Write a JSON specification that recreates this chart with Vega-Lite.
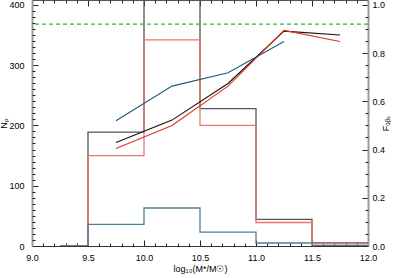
{
  "$schema": "https://vega.github.io/schema/vega-lite/v6.json",
  "width": 336,
  "height": 246,
  "autosize": {"type": "none"},
  "padding": {"left": 32, "top": 0, "right": 27, "bottom": 32},
  "background": "white",
  "config": {
    "view": {"stroke": null},
    "font": "Liberation Sans",
    "axis": {"labelFont": "Liberation Sans", "labelFontSize": 9, "labelColor": "#000", "titleFont": "Liberation Sans", "titleFontSize": 9, "titleFontWeight": "normal", "titleColor": "#000", "grid": false, "tickColor": "#222", "tickWidth": 1}
  },
  "datasets": {
    "hist": [
      {"x": 9.25, "n": 0, "s": "black"}, {"x": 9.5, "n": 189, "s": "black"}, {"x": 10.0, "n": 450, "s": "black"}, {"x": 10.5, "n": 228, "s": "black"}, {"x": 11.0, "n": 44, "s": "black"}, {"x": 11.5, "n": 5, "s": "black"}, {"x": 12.0, "n": 5, "s": "black"},
      {"x": 9.25, "n": 0, "s": "red"}, {"x": 9.5, "n": 150, "s": "red"}, {"x": 10.0, "n": 342, "s": "red"}, {"x": 10.5, "n": 200, "s": "red"}, {"x": 11.0, "n": 39, "s": "red"}, {"x": 11.5, "n": 4, "s": "red"}, {"x": 12.0, "n": 4, "s": "red"},
      {"x": 9.25, "n": 0, "s": "blue"}, {"x": 9.5, "n": 36, "s": "blue"}, {"x": 10.0, "n": 63, "s": "blue"}, {"x": 10.5, "n": 23, "s": "blue"}, {"x": 11.0, "n": 5, "s": "blue"}, {"x": 11.5, "n": 1, "s": "blue"}, {"x": 12.0, "n": 1, "s": "blue"}
    ],
    "frac": [
      {"x": 9.75, "f": 0.429, "s": "black"}, {"x": 10.25, "f": 0.522, "s": "black"}, {"x": 10.75, "f": 0.674, "s": "black"}, {"x": 11.25, "f": 0.891, "s": "black"}, {"x": 11.75, "f": 0.875, "s": "black"},
      {"x": 9.75, "f": 0.404, "s": "red"}, {"x": 10.25, "f": 0.5, "s": "red"}, {"x": 10.75, "f": 0.663, "s": "red"}, {"x": 11.25, "f": 0.894, "s": "red"}, {"x": 11.75, "f": 0.848, "s": "red"},
      {"x": 9.75, "f": 0.519, "s": "blue"}, {"x": 10.25, "f": 0.663, "s": "blue"}, {"x": 10.75, "f": 0.718, "s": "blue"}, {"x": 11.25, "f": 0.848, "s": "blue"}
    ],
    "thr": [{"f": 0.92}]
  },
  "resolve": {"scale": {"y": "independent"}, "axis": {"x": "independent", "y": "independent"}},
  "layer": [
    {
      "data": {"name": "hist"},
      "transform": [{"filter": "datum.s === 'black'"}],
      "mark": {"type": "line", "interpolate": "step-after", "color": "#555555", "strokeWidth": 1.3, "clip": true},
      "encoding": {
        "x": {"field": "x", "type": "quantitative", "scale": {"domain": [9, 12], "nice": false, "zero": false},
          "axis": {"orient": "bottom", "values": [9, 9.5, 10, 10.5, 11, 11.5, 12], "format": ".1f", "tickSize": -6, "labelPadding": 13, "domainColor": "#333", "domainWidth": 1, "title": "log₁₀(M*/M☉)", "titlePadding": 2, "labelFlush": false}},
        "y": {"field": "n", "type": "quantitative", "scale": {"domain": [0, 408], "nice": false, "zero": false},
          "axis": {"orient": "left", "values": [0, 100, 200, 300, 400], "tickSize": -6, "labelPadding": 14, "domainColor": "#999", "domainWidth": 2, "title": "Nₚ", "titlePadding": 0, "labelFlush": false}}
      }
    },
    {
      "data": {"name": "hist"},
      "transform": [{"filter": "datum.s === 'red'"}],
      "mark": {"type": "line", "interpolate": "step-after", "color": "#e8766b", "strokeWidth": 1.3, "clip": true},
      "encoding": {
        "x": {"field": "x", "type": "quantitative", "scale": {"domain": [9, 12], "nice": false, "zero": false},
          "axis": {"orient": "bottom", "values": [9.1, 9.2, 9.3, 9.4, 9.6, 9.7, 9.8, 9.9, 10.1, 10.2, 10.3, 10.4, 10.6, 10.7, 10.8, 10.9, 11.1, 11.2, 11.3, 11.4, 11.6, 11.7, 11.8, 11.9], "labels": false, "tickSize": -3, "domain": false, "title": null}},
        "y": {"field": "n", "type": "quantitative", "scale": {"domain": [0, 408], "nice": false, "zero": false},
          "axis": {"orient": "left", "values": [10, 20, 30, 40, 50, 60, 70, 80, 90, 110, 120, 130, 140, 150, 160, 170, 180, 190, 210, 220, 230, 240, 250, 260, 270, 280, 290, 310, 320, 330, 340, 350, 360, 370, 380, 390], "labels": false, "tickSize": -3, "domain": false, "title": null}}
      }
    },
    {
      "data": {"name": "hist"},
      "transform": [{"filter": "datum.s === 'blue'"}],
      "mark": {"type": "line", "interpolate": "step-after", "color": "#4f7f96", "strokeWidth": 1.3, "clip": true},
      "encoding": {
        "x": {"field": "x", "type": "quantitative", "scale": {"domain": [9, 12], "nice": false, "zero": false},
          "axis": {"orient": "top", "values": [9, 9.5, 10, 10.5, 11, 11.5, 12], "labels": false, "tickSize": -6, "domainColor": "#555", "domainWidth": 1, "title": null}},
        "y": {"field": "n", "type": "quantitative", "scale": {"domain": [0, 408], "nice": false, "zero": false}, "axis": null}
      }
    },
    {
      "data": {"name": "frac"},
      "transform": [{"filter": "datum.s === 'black'"}],
      "mark": {"type": "line", "color": "#111111", "strokeWidth": 1.1},
      "encoding": {
        "x": {"field": "x", "type": "quantitative", "scale": {"domain": [9, 12], "nice": false, "zero": false},
          "axis": {"orient": "top", "values": [9.1, 9.2, 9.3, 9.4, 9.6, 9.7, 9.8, 9.9, 10.1, 10.2, 10.3, 10.4, 10.6, 10.7, 10.8, 10.9, 11.1, 11.2, 11.3, 11.4, 11.6, 11.7, 11.8, 11.9], "labels": false, "tickSize": -3, "domain": false, "title": null}},
        "y": {"field": "f", "type": "quantitative", "scale": {"domain": [0, 1.02], "nice": false, "zero": false},
          "axis": {"orient": "right", "values": [0, 0.2, 0.4, 0.6, 0.8, 1.0], "format": ".1f", "tickSize": -6, "labelPadding": 10, "domainColor": "#999", "domainWidth": 2, "title": "Fₒᵦₛ", "titleAngle": -90, "titlePadding": 6, "labelFlush": false}}
      }
    },
    {
      "data": {"name": "frac"},
      "transform": [{"filter": "datum.s === 'red'"}],
      "mark": {"type": "line", "color": "#e3321f", "strokeWidth": 1.1},
      "encoding": {
        "x": {"field": "x", "type": "quantitative", "scale": {"domain": [9, 12], "nice": false, "zero": false}, "axis": null},
        "y": {"field": "f", "type": "quantitative", "scale": {"domain": [0, 1.02], "nice": false, "zero": false},
          "axis": {"orient": "right", "values": [0.05, 0.1, 0.15, 0.25, 0.3, 0.35, 0.45, 0.5, 0.55, 0.65, 0.7, 0.75, 0.85, 0.9, 0.95], "labels": false, "tickSize": -3, "domain": false, "title": null}}
      }
    },
    {
      "data": {"name": "frac"},
      "transform": [{"filter": "datum.s === 'blue'"}],
      "mark": {"type": "line", "color": "#1f5b78", "strokeWidth": 1.1},
      "encoding": {
        "x": {"field": "x", "type": "quantitative", "scale": {"domain": [9, 12], "nice": false, "zero": false}, "axis": null},
        "y": {"field": "f", "type": "quantitative", "scale": {"domain": [0, 1.02], "nice": false, "zero": false}, "axis": null}
      }
    },
    {
      "data": {"name": "thr"},
      "mark": {"type": "rule", "color": "#3cb043", "strokeWidth": 1.3, "strokeDash": [4, 3]},
      "encoding": {
        "y": {"field": "f", "type": "quantitative", "scale": {"domain": [0, 1.02], "nice": false, "zero": false}, "axis": null}
      }
    }
  ]
}
